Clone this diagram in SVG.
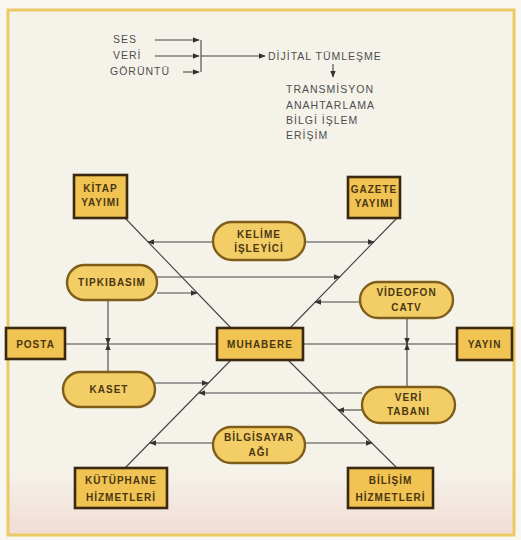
<svg xmlns="http://www.w3.org/2000/svg" width="521" height="540" viewBox="0 0 521 540">
<defs>
<marker id="ah" viewBox="0 0 10 10" refX="9" refY="5" markerWidth="7" markerHeight="7" markerUnits="userSpaceOnUse" orient="auto"><path d="M0,1 L10,5 L0,9 z" fill="#333"/></marker>
<linearGradient id="bg" x1="0" y1="0" x2="0" y2="1"><stop offset="0.88" stop-color="#f5f2ea"/><stop offset="1" stop-color="#f1dcd5"/></linearGradient>
</defs>
<style>
.box{fill:#f0c352;stroke:#3a2810;stroke-width:2.6}
.pill{fill:#f3cd66;stroke:#7f5e1a;stroke-width:2.4}
.lbl{font-family:"Liberation Sans",Arial,sans-serif;font-size:10px;font-weight:700;fill:#4a3712;text-anchor:middle;letter-spacing:1px}
.top{font-family:"Liberation Sans",Arial,sans-serif;font-size:10.5px;fill:#4e4e4e;letter-spacing:1px}
.ln{stroke:#444;stroke-width:1.1;fill:none}
.arr{marker-end:url(#ah)}
</style>
<rect x="0" y="0" width="521" height="540" fill="#f8f6f1"/>
<rect x="8" y="10" width="506" height="525" fill="url(#bg)" stroke="#ecc964" stroke-width="3"/>

<g id="top-flow">
<text class="top" x="113" y="43">SES</text>
<text class="top" x="113" y="59">VERİ</text>
<text class="top" x="110" y="75">GÖRÜNTÜ</text>
<path class="ln arr" d="M155,40 H199"/>
<path class="ln arr" d="M155,56 H199"/>
<path class="ln arr" d="M183,72 H199"/>
<path class="ln" d="M201,40 V72"/>
<path class="ln arr" d="M201,56 H265"/>
<text class="top" x="268" y="59.5">DİJİTAL TÜMLEŞME</text>
<path class="ln arr" d="M333,64 V77"/>
<text class="top" x="286" y="93">TRANSMİSYON</text>
<text class="top" x="286" y="109">ANAHTARLAMA</text>
<text class="top" x="286" y="124">BİLGİ İŞLEM</text>
<text class="top" x="286" y="139">ERİŞİM</text>
</g>

<g id="connectors">
<path class="ln" d="M125,218 L231,328"/>
<path class="ln" d="M397,218 L290,328"/>
<path class="ln" d="M231,360 L125,468"/>
<path class="ln" d="M288,360 L397,468"/>
<path class="ln" d="M65,344 H217"/>
<path class="ln" d="M303,344 H457"/>
<path class="ln arr" d="M213,242 H148"/>
<path class="ln arr" d="M305,242 H374"/>
<path class="ln arr" d="M157,277 H340"/>
<path class="ln arr" d="M157,293 H197"/>
<path class="ln arr" d="M360,302 H315"/>
<path class="ln arr" d="M108,300 V344"/>
<path class="ln arr" d="M108,372 V344"/>
<path class="ln arr" d="M407,318 V344"/>
<path class="ln arr" d="M407,387 V344"/>
<path class="ln arr" d="M155,383 H208"/>
<path class="ln arr" d="M362,393 H199"/>
<path class="ln arr" d="M362,410 H338"/>
<path class="ln arr" d="M213,443 H150"/>
<path class="ln arr" d="M305,443 H372"/>
</g>

<g id="kitap"><rect class="box" x="74" y="175" width="53" height="43"/><text class="lbl" x="100.5" y="192">KİTAP</text><text class="lbl" x="100.5" y="206">YAYIMI</text></g>
<g id="gazete"><rect class="box" x="348" y="177" width="52" height="41"/><text class="lbl" x="374" y="193">GAZETE</text><text class="lbl" x="374" y="207">YAYIMI</text></g>
<g id="kelime"><rect class="pill" x="213" y="222" width="92" height="38" rx="19"/><text class="lbl" x="259" y="238">KELİME</text><text class="lbl" x="259" y="252">İŞLEYİCİ</text></g>
<g id="tipkibasim"><rect class="pill" x="67" y="265" width="90" height="35" rx="17.5"/><text class="lbl" x="112" y="286">TIPKIBASIM</text></g>
<g id="videofon"><rect class="pill" x="360" y="282" width="93" height="36" rx="18"/><text class="lbl" x="406.5" y="296">VİDEOFON</text><text class="lbl" x="406.5" y="311">CATV</text></g>
<g id="posta"><rect class="box" x="6" y="328" width="59" height="31"/><text class="lbl" x="35.5" y="347.5">POSTA</text></g>
<g id="muhabere"><rect class="box" x="217" y="328" width="86" height="32"/><text class="lbl" x="260" y="347.5">MUHABERE</text></g>
<g id="yayin"><rect class="box" x="457" y="328" width="55" height="32"/><text class="lbl" x="484.5" y="347.5">YAYIN</text></g>
<g id="kaset"><rect class="pill" x="63" y="372" width="92" height="35" rx="17.5"/><text class="lbl" x="109" y="393">KASET</text></g>
<g id="veritabani"><rect class="pill" x="362" y="387" width="93" height="36" rx="18"/><text class="lbl" x="408.5" y="401">VERİ</text><text class="lbl" x="408.5" y="415">TABANI</text></g>
<g id="bilgisayar"><rect class="pill" x="213" y="427" width="92" height="36" rx="18"/><text class="lbl" x="259" y="441">BİLGİSAYAR</text><text class="lbl" x="259" y="456">AĞI</text></g>
<g id="kutuphane"><rect class="box" x="75" y="468" width="92" height="40"/><text class="lbl" x="121" y="484">KÜTÜPHANE</text><text class="lbl" x="121" y="501">HİZMETLERİ</text></g>
<g id="bilisim"><rect class="box" x="348" y="468" width="85" height="40"/><text class="lbl" x="390.5" y="484">BİLİŞİM</text><text class="lbl" x="390.5" y="501">HİZMETLERİ</text></g>
</svg>
